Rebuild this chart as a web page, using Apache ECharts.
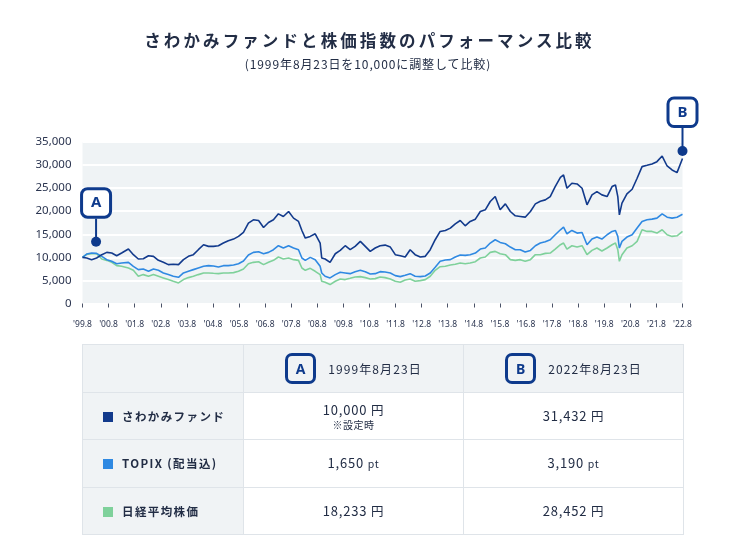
<!DOCTYPE html>
<html>
<head>
<meta charset="utf-8">
<script src="https://cdn.jsdelivr.net/npm/echarts@6/dist/echarts.min.js"></script>
<style>
html,body{margin:0;padding:0;background:#fff;width:736px;height:553px;overflow:hidden;
  font-family:"Noto Sans CJK JP","Noto Sans",sans-serif;color:#222d45;}
#chart{position:absolute;left:0;top:0;width:736px;height:553px;}
.title{position:absolute;left:0;top:30px;width:736px;text-align:center;font-size:16.5px;line-height:20px;
  font-weight:bold;letter-spacing:3.1px;padding-left:3px;box-sizing:border-box;}
.sub{position:absolute;left:0;top:56px;width:736px;text-align:center;font-size:12px;line-height:16px;letter-spacing:0.9px;}
.tbl{position:absolute;left:82px;top:344px;border-collapse:collapse;table-layout:fixed;width:601px;}
.tbl td{border:1.5px solid #dfe4e9;height:46.5px;padding:0;text-align:center;vertical-align:middle;background:#fff;}
.tbl tr.hd td,.tbl td.lab{background:#f0f3f5;}
.tbl td.lab{text-align:left;padding-left:20px;font-size:11.5px;font-weight:600;letter-spacing:1.4px;}
.sq{display:inline-block;width:10px;height:10px;margin-right:9px;vertical-align:-1px;}
.badge{display:inline-block;box-sizing:border-box;width:31px;height:31px;border:3px solid #0e3a8c;border-radius:7px;
  color:#0e3a8c;font-family:"Noto Sans",sans-serif;font-weight:bold;font-size:14px;line-height:25px;text-align:center;
  vertical-align:middle;margin-right:12px;}
.date{font-size:12px;letter-spacing:1.1px;vertical-align:middle;}
.v{font-size:13px;letter-spacing:0.8px;line-height:17px;}
.u{font-size:12.5px;}
.u.pt{font-size:10.5px;}
.note{font-size:10px;line-height:13px;letter-spacing:0.5px;}
</style>
</head>
<body>
<div id="chart"></div>
<div class="title">さわかみファンドと株価指数のパフォーマンス比較</div>
<div class="sub">(1999年8月23日を10,000に調整して比較)</div>
<table class="tbl" id="tbl"></table>
<script>
// ---- data ----
const elapsedYears = [
 0.00,0.16,0.35,0.54,0.74,0.93,1.12,1.31,1.50,1.76,1.95,2.14,2.33,2.53,2.72,2.91,3.10,3.29,3.48,3.68,
 3.87,4.06,4.25,4.44,4.64,4.83,5.02,5.21,5.40,5.59,5.79,5.98,6.17,6.36,6.55,6.75,6.94,7.13,7.32,7.51,
 7.70,7.90,8.09,8.28,8.41,8.54,8.73,8.92,9.11,9.17,9.30,9.49,9.69,9.88,10.07,10.26,10.45,10.65,10.84,11.03,
 11.22,11.41,11.60,11.80,11.99,12.18,12.37,12.56,12.75,12.95,13.14,13.33,13.52,13.71,13.91,14.10,14.29,14.48,14.67,14.86,
 15.06,15.25,
 15.44,15.63,15.82,16.01,16.21,16.40,16.59,16.78,16.97,17.17,17.36,17.55,17.74,17.93,18.12,18.32,18.44,18.57,18.76,18.96,
 19.15,19.34,19.53,19.72,19.91,20.11,20.30,20.43,20.52,20.58,20.68,20.87,21.07,21.26,21.45,21.64,21.83,22.02,22.22,22.41,
 22.60,22.79,23.00
];
const sawakami = [
 10000,9860,9500,9860,10580,11080,10940,10360,10940,11800,10580,9640,9710,10360,10220,9350,8920,8420,8490,8420,
 9500,10220,10580,11660,12740,12380,12380,12520,13100,13600,13960,14540,15400,17420,18140,17990,16480,17560,18140,19430,
 18860,19940,18500,17780,15830,14180,14540,15110,13100,9860,9640,8920,10790,11510,12520,11660,12380,13460,12380,11300,
 12020,12520,12660,12230,10580,10360,10070,11660,10580,10070,10220,11660,13820,15620,15830,16340,17270,17990,16840,17780,
 18280,19940,
 20300,22100,23180,20300,21590,19940,19000,18860,18710,19940,21590,22170,22460,23180,25340,27350,27860,24980,26060,25910,
 24980,21380,23540,24260,23540,23180,25340,25700,23180,19220,21740,23750,24760,27140,29660,29940,30230,30740,31960,29800,
 28940,28360,31430
];
const topix = [
 10000,10720,10940,10860,10220,9500,9140,8630,8780,8920,8060,7340,7480,6980,7480,7190,6620,6260,5900,5680,
 6620,6980,7340,7700,8060,8200,8130,7910,8200,8200,8340,8630,9210,10500,11080,11220,10790,11080,11660,12520,
 12020,12520,12020,11660,9860,9350,10000,9500,8060,6620,5900,5540,6260,6760,6620,6470,6900,7190,6900,6400,
 6470,6900,6830,6620,6040,5820,6110,6470,5900,5820,5970,6620,7840,9140,9420,9500,10070,10500,10430,10580,
 10940,11800,
 12020,13100,13820,13240,12950,12230,11660,11660,11150,11510,12520,13100,13380,13820,14900,15980,16550,15110,15830,15260,
 15400,12740,13960,14390,13960,14900,15620,15830,14540,12020,13460,14390,14900,16340,17780,18140,18280,18500,19430,18710,
 18500,18710,19330
];
const nikkei = [
 10000,10650,10790,10790,9640,9350,8920,8200,8060,7700,7190,5900,6260,5900,6260,5900,5540,5180,4820,4460,
 5180,5610,5900,6260,6620,6620,6540,6470,6620,6620,6690,6980,7480,8630,8920,9060,8420,8920,9350,10070,
 9640,9860,9500,9350,7700,7190,7620,6980,6260,4820,4600,4100,4820,5320,5180,5460,5750,5820,5610,5320,
 5390,5750,5610,5320,4820,4600,5100,5320,4820,4960,5180,5900,7190,7980,8060,8340,8490,8780,8630,8780,
 9060,9860,
 10070,11080,11300,10790,10580,9500,9350,9500,9140,9500,10580,10580,10860,10940,11800,12740,13100,11800,12520,12230,
 12520,10580,11510,12020,11370,12020,12740,13100,11660,9140,10580,12020,12520,13460,15980,15620,15620,15260,15980,14900,
 14540,14680,15610
];
const tickLabels = ["'99.8","'00.8","'01.8","'02.8","'03.8","'04.8","'05.8","'06.8","'07.8","'08.8","'09.8","'10.8",
  "'11.8","'12.8","'13.8","'14.8","'15.8","'16.8","'17.8","'18.8","'19.8","'20.8","'21.8","'22.8"];
const annotationLetters = ['A','B'];
const annotationPoints = [[0.52, 13400], [23, 33050]];

// table data
const seriesNames = ['さわかみファンド','TOPIX (配当込)','日経平均株価'];
const seriesColors = ['#123a8c','#2f89e2','#7fd19b'];
const headerDates = ['1999年8月23日','2022年8月23日'];
const startValues = ['10,000','1,650','18,233'];
const endValues = ['31,432','3,190','28,452'];
const units = ['円','pt','円'];
const startNotes = ['※設定時','',''];

// ---- chart ----
const navy = '#0e3a8c';
const chart = echarts.init(document.getElementById('chart'), null, {renderer:'canvas'});
const pair = arr => elapsedYears.map((t,i)=>[t, arr[i]]);
const axisFont = '"Noto Sans","Noto Sans CJK JP",sans-serif';
const option = {
  animation:false,
  backgroundColor:'#ffffff',
  grid:{left:82.5,right:53.5,top:142,bottom:249.5,show:true,backgroundColor:'#eff3f5',borderWidth:0},
  xAxis:{type:'value',min:0,max:23,interval:1,offset:9,
    axisLine:{show:false},
    axisTick:{show:true,length:4,lineStyle:{color:'#4a5368',width:1}},
    axisLabel:{formatter:v=>tickLabels[Math.round(v)],fontSize:8.5,color:'#2b3550',margin:8,fontFamily:axisFont},
    splitLine:{show:false}},
  yAxis:{type:'value',min:0,max:35000,interval:5000,
    axisLine:{show:false},axisTick:{show:false},
    axisLabel:{formatter:v=>v.toLocaleString('en-US'),fontSize:11.5,color:'#2b3550',margin:11,fontFamily:axisFont},
    splitLine:{lineStyle:{color:'#ffffff',width:2}}},
  series:[
    {name:seriesNames[2],type:'line',data:pair(nikkei),showSymbol:false,symbol:'none',lineStyle:{color:seriesColors[2],width:1.6},z:2},
    {name:seriesNames[1],type:'line',data:pair(topix),showSymbol:false,symbol:'none',lineStyle:{color:seriesColors[1],width:1.6},z:3},
    {name:seriesNames[0],type:'line',data:pair(sawakami),showSymbol:false,symbol:'none',lineStyle:{color:seriesColors[0],width:1.6},z:4},
    {name:'anno',type:'scatter',data:annotationPoints,symbolSize:10,itemStyle:{color:navy,opacity:1},clip:false,z:6}
  ]
};
chart.setOption(option);

const graphics = annotationPoints.map((p,i)=>{
  const [x,y] = chart.convertToPixel({gridIndex:0}, p);
  return {type:'group',z:10,children:[
    {type:'line',shape:{x1:x,y1:y-23,x2:x,y2:y},style:{stroke:navy,lineWidth:2}},
    {type:'rect',shape:{x:x-14.5,y:y-53,width:29,height:28.5,r:6},style:{fill:'#fff',stroke:navy,lineWidth:3}},
    {type:'text',x:x,y:y-38.5,style:{text:annotationLetters[i],fill:navy,font:'bold 15px "Noto Sans",sans-serif',align:'center',verticalAlign:'middle'}}
  ]};
});
chart.setOption({graphic:graphics});

// ---- table ----
const tbl = document.getElementById('tbl');
let html = '<colgroup><col style="width:161px"><col style="width:220px"><col style="width:220px"></colgroup>';
html += '<tr class="hd"><td class="lab"></td>' + headerDates.map((d,i)=>
  `<td><span class="badge">${annotationLetters[i]}</span><span class="date">${d}</span></td>`).join('') + '</tr>';
seriesNames.forEach((n,i)=>{
  const uc = units[i]==='pt' ? 'u pt' : 'u';
  html += `<tr><td class="lab"><span class="sq" style="background:${seriesColors[i]}"></span>${n}</td>`;
  html += `<td><div class="v">${startValues[i]} <span class="${uc}">${units[i]}</span></div>${startNotes[i]?`<div class="note">${startNotes[i]}</div>`:''}</td>`;
  html += `<td><div class="v">${endValues[i]} <span class="${uc}">${units[i]}</span></div></td></tr>`;
});
tbl.innerHTML = html;
</script>
</body>
</html>
